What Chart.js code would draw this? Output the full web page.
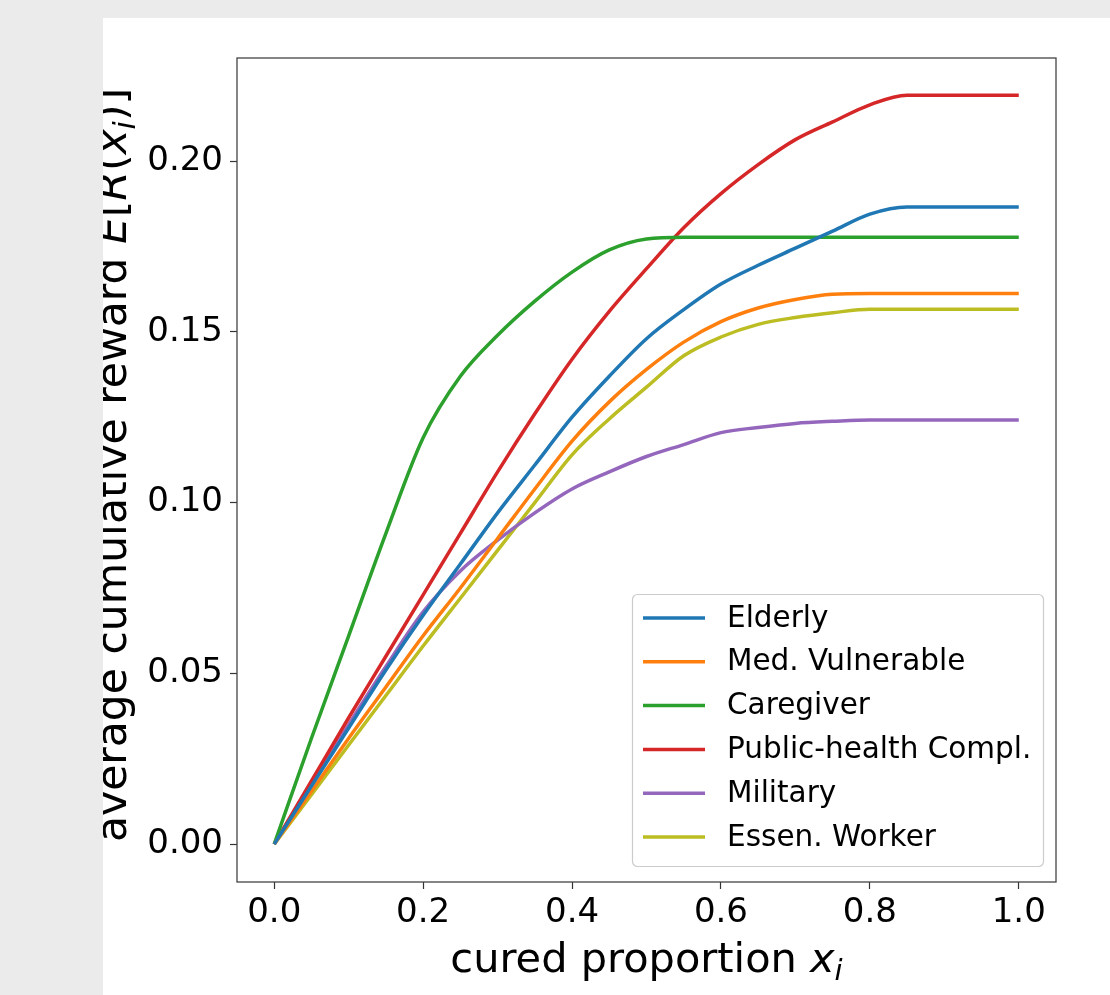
<!DOCTYPE html>
<html>
<head>
<meta charset="UTF-8">
<title>average cumulative reward</title>
<script src="https://cdn.jsdelivr.net/npm/chart.js"></script>
<style>
  html, body { margin: 0; padding: 0; background: #ebebeb; }
  #wrap { position: absolute; left: 103px; top: 18px; width: 1007px; height: 977px; background: #fff; }
  canvas { display: block; }
</style>
</head>
<body>
<div id="wrap"><canvas id="c" width="1007" height="977"></canvas></div>

<script>
const xs = [0, 0.05, 0.1, 0.15, 0.2, 0.25, 0.3, 0.35, 0.4, 0.45, 0.5, 0.55, 0.6, 0.65, 0.7, 0.75, 0.8, 0.85, 0.9, 0.95, 1.0];

const elderly   = [0, 0.017, 0.034, 0.051, 0.067, 0.082, 0.097, 0.111, 0.125, 0.137, 0.148, 0.1565, 0.164, 0.1695, 0.1745, 0.1795, 0.1845, 0.1866, 0.1866, 0.1866, 0.1866];
const medVuln   = [0, 0.0155, 0.031, 0.046, 0.061, 0.075, 0.0895, 0.104, 0.118, 0.1295, 0.139, 0.147, 0.153, 0.157, 0.1595, 0.161, 0.1612, 0.1612, 0.1612, 0.1612, 0.1612];
const caregiver = [0, 0.031, 0.061, 0.091, 0.119, 0.137, 0.149, 0.159, 0.1675, 0.174, 0.1772, 0.1777, 0.1777, 0.1777, 0.1777, 0.1777, 0.1777, 0.1777, 0.1777, 0.1777, 0.1777];
const publicH   = [0, 0.0185, 0.037, 0.055, 0.073, 0.091, 0.109, 0.126, 0.142, 0.156, 0.1685, 0.1805, 0.1905, 0.199, 0.2063, 0.2115, 0.2165, 0.2193, 0.2193, 0.2193, 0.2193];
const military  = [0, 0.0175, 0.035, 0.052, 0.068, 0.080, 0.089, 0.097, 0.104, 0.109, 0.1135, 0.117, 0.1205, 0.122, 0.1232, 0.1238, 0.1242, 0.1242, 0.1242, 0.1242, 0.1242];
const essential = [0, 0.0145, 0.029, 0.0435, 0.058, 0.072, 0.086, 0.1, 0.114, 0.1245, 0.1338, 0.143, 0.1485, 0.1522, 0.1542, 0.1556, 0.1566, 0.1566, 0.1566, 0.1566, 0.1566];

const labels = ["Elderly", "Med. Vulnerable", "Caregiver", "Public-health Compl.", "Military", "Essen. Worker"];
const series = [elderly, medVuln, caregiver, publicH, military, essential];
const colors = ["#1f77b4", "#ff7f0e", "#2ca02c", "#d62728", "#9467bd", "#bcbd22"];

const xTicks = [0, 0.2, 0.4, 0.6, 0.8, 1.0];
const yTicks = [0, 0.05, 0.10, 0.15, 0.20];

const FONT = "'DejaVu Sans', sans-serif";

// text with italic / subscript pieces, centred on x
function drawRich(ctx, parts, x, y, size) {
  const fontFor = p => (p.it ? "italic " : "") + (p.sub ? size * 0.7 : size) + "px " + FONT;
  let total = 0;
  parts.forEach(p => { ctx.font = fontFor(p); p.w = ctx.measureText(p.t).width; total += p.w; });
  let cx = x - total / 2;
  ctx.textAlign = "left";
  ctx.textBaseline = "alphabetic";
  parts.forEach(p => {
    ctx.font = fontFor(p);
    ctx.fillText(p.t, cx, y + (p.sub ? size * 0.2 : 0));
    cx += p.w;
  });
}

const extras = {
  id: "extras",
  afterDraw(chart) {
    const ctx = chart.ctx;
    const ca = chart.chartArea;
    ctx.save();

    // frame
    ctx.strokeStyle = "#444";
    ctx.lineWidth = 1.3;
    ctx.strokeRect(ca.left, ca.top, ca.right - ca.left, ca.bottom - ca.top);

    ctx.fillStyle = "#000";
    // x title
    drawRich(ctx, [{t: "cured proportion "}, {t: "x", it: true}, {t: "i", it: true, sub: true}],
      (ca.left + ca.right) / 2, 954, 41.5);

    // y title (partly cut by the left edge, as in the original)
    ctx.save();
    ctx.translate(23, 447);
    ctx.rotate(-Math.PI / 2);
    drawRich(ctx, [
      {t: "average cumulative reward "}, {t: "E", it: true}, {t: "["}, {t: "R", it: true},
      {t: "("}, {t: "x", it: true}, {t: "i", it: true, sub: true}, {t: ")]"}
    ], 0, 0, 42.5);
    ctx.restore();

    // legend
    const bw = 411, bh = 272;
    const bx = ca.right - 13 - bw, by = ca.bottom - 16 - bh;
    ctx.fillStyle = "rgba(255,255,255,0.8)";
    ctx.strokeStyle = "#cccccc";
    ctx.lineWidth = 1.2;
    ctx.beginPath();
    ctx.roundRect(bx + 0.5, by + 0.5, bw, bh, 5);
    ctx.fill();
    ctx.stroke();
    ctx.font = "29.5px " + FONT;
    ctx.textBaseline = "middle";
    ctx.textAlign = "left";
    chart.data.datasets.forEach((ds, i) => {
      const ry = by + 24 + i * 43.8;
      ctx.strokeStyle = ds.borderColor;
      ctx.lineWidth = 3.5;
      ctx.beginPath();
      ctx.moveTo(bx + 11, ry);
      ctx.lineTo(bx + 73, ry);
      ctx.stroke();
      ctx.fillStyle = "#000";
      ctx.fillText(ds.label, bx + 95, ry + 1);
    });
    ctx.restore();
  }
};

new Chart(document.getElementById("c"), {
  type: "line",
  data: {
    datasets: labels.map((name, i) => ({
      label: name,
      data: xs.map((x, j) => ({x: x, y: series[i][j]})),
      borderColor: colors[i],
      backgroundColor: colors[i],
      borderWidth: 3.5,
      pointRadius: 0,
      cubicInterpolationMode: "monotone",
      fill: false
    }))
  },
  options: {
    responsive: false,
    animation: false,
    devicePixelRatio: 1,
    layout: { padding: { top: 40, right: 54, left: 0, bottom: 0 } },
    plugins: { legend: { display: false }, tooltip: { enabled: false } },
    scales: {
      x: {
        type: "linear",
        min: -0.05,
        max: 1.05,
        afterFit: s => { s.height = 113; },
        afterBuildTicks: s => { s.ticks = xTicks.map(v => ({value: v})); },
        grid: { drawOnChartArea: false, drawTicks: true, tickLength: 7, color: "#333", tickWidth: 1.2 },
        border: { display: false },
        ticks: {
          font: { family: FONT, size: 34 },
          color: "#000",
          padding: 4,
          maxRotation: 0,
          autoSkip: false,
          callback: v => v.toFixed(1)
        }
      },
      y: {
        type: "linear",
        min: -0.0111,
        max: 0.2302,
        afterFit: s => { s.width = 134; },
        afterBuildTicks: s => { s.ticks = yTicks.map(v => ({value: v})); },
        grid: { drawOnChartArea: false, drawTicks: true, tickLength: 7, color: "#333", tickWidth: 1.2 },
        border: { display: false },
        ticks: {
          font: { family: FONT, size: 34 },
          color: "#000",
          padding: 7,
          autoSkip: false,
          callback: v => v.toFixed(2)
        }
      }
    }
  },
  plugins: [extras]
});
</script>
</body>
</html>
